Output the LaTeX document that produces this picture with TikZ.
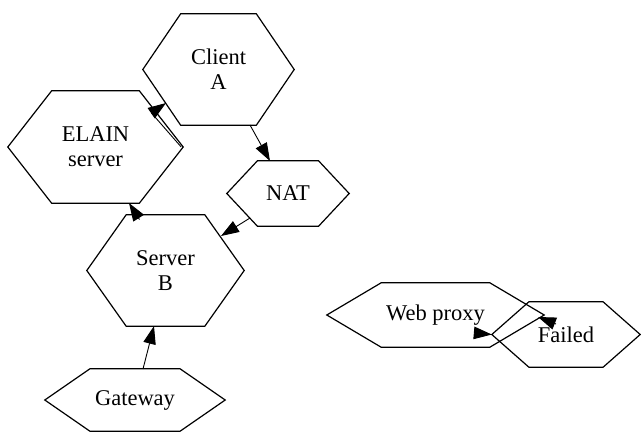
\documentclass[tikz,border=0pt]{standalone}
\usepackage{fontspec}
\setmainfont{Liberation Serif}
\usetikzlibrary{arrows.meta, calc}

\begin{document}
\begin{tikzpicture}[
    x=1pt, y=-1pt,
    hexa/.style 2 args={rectangle, minimum width=#1, minimum height=#2, inner sep=0pt, align=center, font=\fontsize{22.5}{25}\selectfont},
    link/.style={draw, line width=0.9pt, -{Triangle[length=18pt, width=12.5pt]}}
]
\useasboundingbox (0,0) rectangle (641,432);

\node[hexa={151pt}{111pt}] (clienta) at (218.5,69.5) {Client\\A};
\node[hexa={175pt}{112pt}] (elain) at (95.5,147) {ELAIN\\server};
\node[hexa={122pt}{65pt}] (nat) at (288,193.5) {NAT};
\node[hexa={157pt}{111pt}] (serverb) at (165.5,270.5) {Server\\B};
\node[hexa={180pt}{62pt}] (gateway) at (135,400) {Gateway};
\node[hexa={217pt}{64pt}] (webproxy) at (435.5,315) {Web proxy};
\node[hexa={148pt}{65pt}] (failed) at (566,334.5) {Failed};

% hexagon outlines
\foreach \n in {clienta, elain, nat, serverb, gateway, webproxy, failed}
  \draw[line width=1.2pt] ($(\n.north)!0.5!(\n.north west)$) -- ($(\n.north)!0.5!(\n.north east)$) -- (\n.east)
    -- ($(\n.south)!0.5!(\n.south east)$) -- ($(\n.south)!0.5!(\n.south west)$) -- (\n.west) -- cycle;

\draw[link] ($(elain.east)+(-2,0)$) -- ($(clienta)+(-67,43.5)$) -- ($(clienta)+(-52.5,33.5)$);
\draw[link] ($(serverb)+(-26,-51)$) -- ($(elain)+(33.5,56)$);
\draw[link] ($(clienta)+(31.5,55.5)$) -- ($(nat)+(-18,-32.5)$);
\draw[link] ($(nat)+(-38,24.5)$) -- ($(serverb)+(55.5,-34.5)$);
\draw[link] ($(gateway)+(8,-31)$) -- ($(serverb)+(-11.5,55.5)$);
\draw[link] ($(webproxy)+(39.5,18)$) -- (failed.west);
\draw[link] ($(failed)+(-10,-10.5)$) -- ($(webproxy)+(102.5,2)$);

\end{tikzpicture}
\end{document}
